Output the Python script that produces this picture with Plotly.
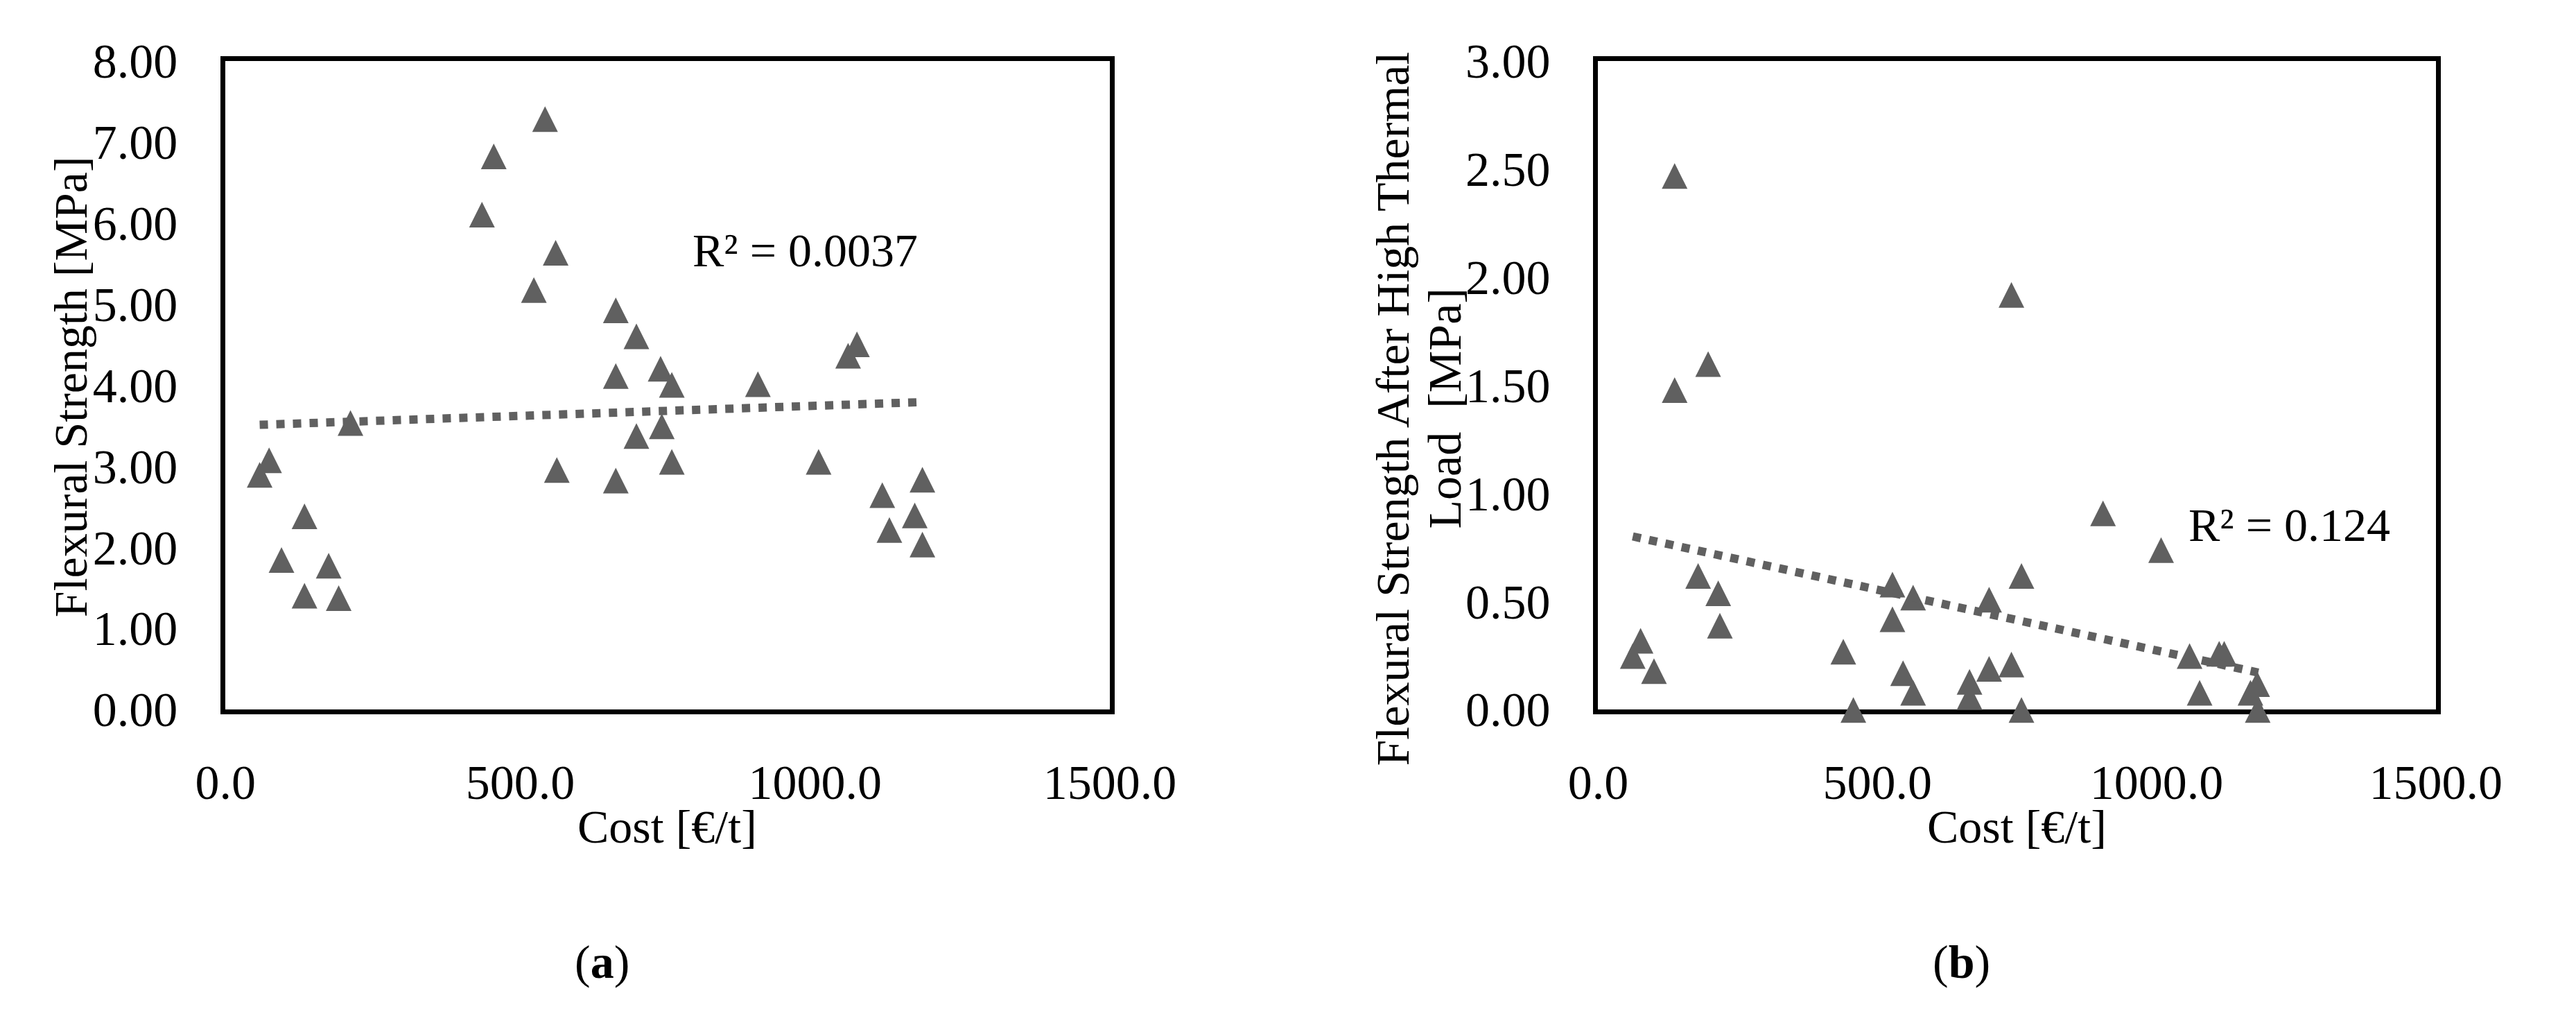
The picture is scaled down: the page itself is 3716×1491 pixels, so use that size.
import plotly.graph_objects as go

# (a) cost vs flexural strength
cost_a = [58, 74, 95, 134, 134, 175, 192, 212, 435, 455, 523, 542, 560, 562, 662, 662,
          662, 697, 697, 738, 740, 757, 757, 903, 1006, 1056, 1071, 1114, 1126, 1169,
          1182, 1182]
flex_a = [2.90, 3.08, 1.85, 2.39, 1.41, 1.78, 1.38, 3.54, 6.11, 6.83, 5.18, 7.29, 5.64,
          2.96, 4.93, 4.12, 2.83, 4.61, 3.38, 4.21, 3.50, 4.01, 3.06, 4.02, 3.06, 4.37,
          4.51, 2.65, 2.22, 2.40, 2.84, 2.04]
trend_a_x = [58, 1182]
trend_a_y = [3.51, 3.79]

# (b) cost vs flexural strength after high thermal load
cost_b = [62, 76, 100, 137, 137, 179, 197, 215, 218, 439, 457, 527, 527, 546, 564, 564,
          665, 665, 700, 700, 740, 740, 758, 758, 904, 1008, 1059, 1077, 1112, 1121,
          1168, 1180, 1181]
flex_b = [0.25, 0.32, 0.18, 2.47, 1.48, 0.62, 1.60, 0.54, 0.39, 0.27, 0.00, 0.58, 0.42,
          0.17, 0.52, 0.08, 0.13, 0.06, 0.51, 0.19, 1.92, 0.21, 0.62, 0.00, 0.91, 0.74,
          0.25, 0.08, 0.26, 0.26, 0.08, 0.12, 0.00]
trend_b_x = [62, 1182]
trend_b_y = [0.80, 0.17]

x_ticks = [0, 500, 1000, 1500]
y_ticks_a = [0, 1, 2, 3, 4, 5, 6, 7, 8]
y_ticks_b = [0, 0.5, 1, 1.5, 2, 2.5, 3]

W, H = 3700, 1475
FONT = "Liberation Serif, Times New Roman, serif"
GREY = "#606060"
MSIZE = 37

# plot frames in page pixels
dom_xa = [284 / W, 1610 / W]
dom_xb = [2342 / W, 3598 / W]
dom_y = [(H - 1031) / H, (H - 45) / H]
plot_h = (dom_y[1] - dom_y[0]) * H

# arrow-up markers have their apex on the point; shift a hidden axis so they sit centred
shift_a = (MSIZE / 2) * 8 / plot_h
shift_b = (MSIZE / 2) * 3 / plot_h

fig = go.Figure()
fig.add_trace(go.Scatter(x=cost_a, y=flex_a, mode="markers", xaxis="x", yaxis="y3",
                         marker=dict(symbol="arrow-up", size=MSIZE, color=GREY),
                         cliponaxis=False, showlegend=False))
fig.add_trace(go.Scatter(x=trend_a_x, y=trend_a_y, mode="lines", xaxis="x", yaxis="y5",
                         line=dict(color=GREY, width=12, dash="12px,12px"),
                         showlegend=False))
fig.add_trace(go.Scatter(x=cost_b, y=flex_b, mode="markers", xaxis="x2", yaxis="y4",
                         marker=dict(symbol="arrow-up", size=MSIZE, color=GREY),
                         cliponaxis=False, showlegend=False))
fig.add_trace(go.Scatter(x=trend_b_x, y=trend_b_y, mode="lines", xaxis="x2", yaxis="y6",
                         line=dict(color=GREY, width=12, dash="12px,12px"),
                         showlegend=False))

tickfont = dict(family=FONT, size=70, color="black")
frame = dict(showline=True, linewidth=7, linecolor="black", mirror=True, showgrid=False,
             zeroline=False, ticks="", tickfont=tickfont, layer="below traces")
hidden = dict(visible=False, showgrid=False, zeroline=False)

fig.update_layout(
    width=W, height=H,
    margin=dict(l=0, r=0, t=0, b=0),
    paper_bgcolor="white", plot_bgcolor="white",
    font=dict(family=FONT, color="black"),
    xaxis=dict(frame, domain=dom_xa, anchor="y", range=[0, 1500], tickvals=x_ticks,
               tickformat=".1f", ticklabelstandoff=38),
    yaxis=dict(frame, domain=dom_y, anchor="x", range=[0, 8], tickvals=y_ticks_a,
               tickformat=".2f", ticklabelstandoff=48),
    xaxis2=dict(frame, domain=dom_xb, anchor="y2", range=[0, 1500], tickvals=x_ticks,
                tickformat=".1f", ticklabelstandoff=38),
    yaxis2=dict(frame, domain=dom_y, anchor="x2", range=[0, 3], tickvals=y_ticks_b,
                tickformat=".2f", ticklabelstandoff=48),
    yaxis3=dict(hidden, overlaying="y", anchor="x", range=[-shift_a, 8 - shift_a]),
    yaxis4=dict(hidden, overlaying="y2", anchor="x2", range=[-shift_b, 3 - shift_b]),
    yaxis5=dict(hidden, overlaying="y", anchor="x", range=[0, 8]),
    yaxis6=dict(hidden, overlaying="y2", anchor="x2", range=[0, 3]),
)

title_font = dict(family=FONT, size=68, color="black")


def paper_x(px):
    return px / W


def paper_y(px):
    return (H - px) / H


notes = [
    # axis titles
    dict(text="Flexural Strength [MPa]", x=paper_x(52), y=paper_y(541), textangle=-90),
    dict(text="Flexural Strength After High Thermal", x=paper_x(2034), y=paper_y(574),
         textangle=-90),
    dict(text="Load  [MPa]", x=paper_x(2112), y=paper_y(574), textangle=-90),
    dict(text="Cost [€/t]", x=paper_x(946), y=paper_y(1209)),
    dict(text="Cost [€/t]", x=paper_x(2970), y=paper_y(1209)),
    # panel labels
    dict(text="(<b>a</b>)", x=paper_x(849), y=paper_y(1415)),
    dict(text="(<b>b</b>)", x=paper_x(2887), y=paper_y(1415)),
]
for n in notes:
    fig.add_annotation(xref="paper", yref="paper", showarrow=False, xanchor="center",
                       yanchor="middle", font=title_font, **n)

fig.add_annotation(xref="x", yref="y", x=983, y=5.66, text="R² = 0.0037", showarrow=False,
                   font=title_font)
fig.add_annotation(xref="x2", yref="y2", x=1238, y=0.853, text="R² = 0.124",
                   showarrow=False, font=title_font)

fig.write_html("out.html")
